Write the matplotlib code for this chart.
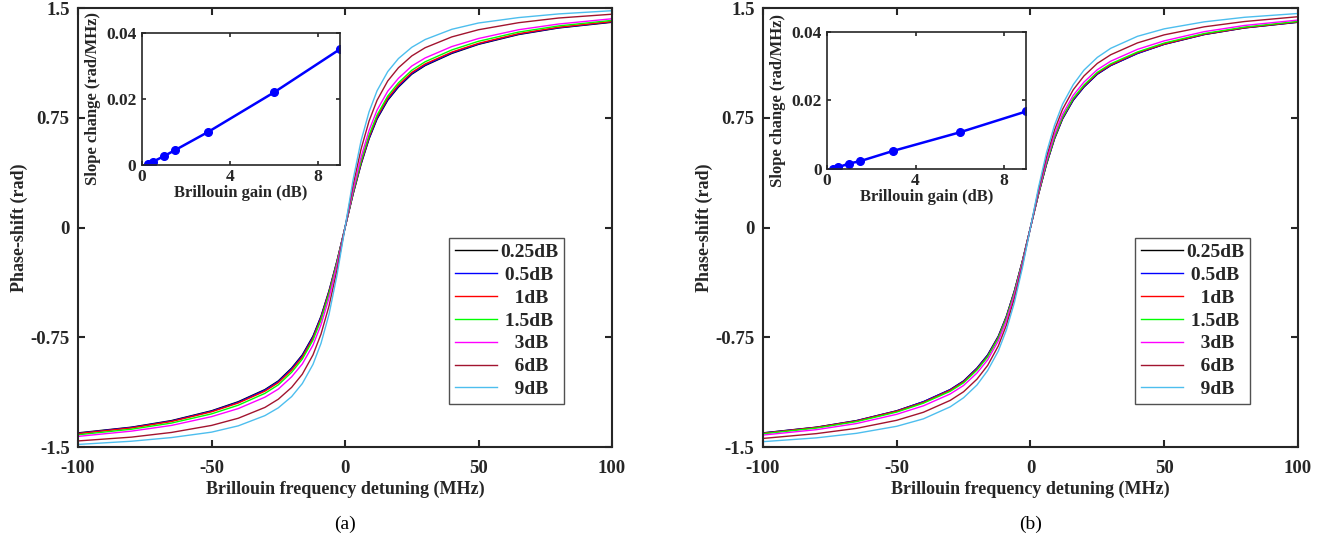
import numpy as np
import matplotlib
matplotlib.use("Agg")
import matplotlib.pyplot as plt

plt.rcParams['font.family'] = ['Liberation Serif', 'DejaVu Serif']
plt.rcParams['axes.unicode_minus'] = False

# detuning (MHz) where the curves were read
detuning = [-100, -80, -65, -50, -40, -30, -25, -20, -16, -12, -9, -6, -3, 0,
            3, 6, 9, 12, 16, 20, 25, 30, 40, 50, 65, 80, 100]

labels = ['0.25dB', '0.5dB', '1dB', '1.5dB', '3dB', '6dB', '9dB']
colors = ['#000000', '#0000FF', '#FF0000', '#00FF00', '#FF00FF', '#A2142F', '#4DBEEE']

# panel (a) phase shift (rad)
a_025 = [-1.403, -1.364, -1.319, -1.252, -1.190, -1.107, -1.048, -0.960, -0.870, -0.742, -0.606, -0.432, -0.227, 0,
         0.227, 0.432, 0.606, 0.742, 0.870, 0.960, 1.048, 1.107, 1.190, 1.252, 1.319, 1.364, 1.403]
a_05 = [-1.406, -1.366, -1.322, -1.255, -1.194, -1.111, -1.053, -0.965, -0.876, -0.747, -0.611, -0.437, -0.229, 0,
        0.229, 0.437, 0.611, 0.747, 0.876, 0.965, 1.053, 1.111, 1.194, 1.255, 1.322, 1.366, 1.406]
a_1 = [-1.408, -1.369, -1.325, -1.259, -1.199, -1.118, -1.060, -0.974, -0.885, -0.757, -0.620, -0.444, -0.234, 0,
       0.234, 0.444, 0.620, 0.757, 0.885, 0.974, 1.060, 1.118, 1.199, 1.259, 1.325, 1.369, 1.408]
a_15 = [-1.416, -1.378, -1.336, -1.273, -1.214, -1.133, -1.075, -0.989, -0.899, -0.769, -0.632, -0.454, -0.239, 0,
        0.239, 0.454, 0.632, 0.769, 0.899, 0.989, 1.075, 1.133, 1.214, 1.273, 1.336, 1.378, 1.416]
a_3 = [-1.427, -1.391, -1.352, -1.292, -1.237, -1.159, -1.104, -1.020, -0.932, -0.803, -0.664, -0.481, -0.255, 0,
       0.255, 0.481, 0.664, 0.803, 0.932, 1.020, 1.104, 1.159, 1.237, 1.292, 1.352, 1.391, 1.427]
a_6 = [-1.458, -1.432, -1.400, -1.352, -1.303, -1.229, -1.173, -1.092, -1.002, -0.870, -0.728, -0.536, -0.289, 0,
       0.289, 0.536, 0.728, 0.870, 1.002, 1.092, 1.173, 1.229, 1.303, 1.352, 1.400, 1.432, 1.458]
a_9 = [-1.482, -1.460, -1.435, -1.398, -1.355, -1.285, -1.232, -1.155, -1.066, -0.935, -0.791, -0.593, -0.325, 0,
       0.325, 0.593, 0.791, 0.935, 1.066, 1.155, 1.232, 1.285, 1.355, 1.398, 1.435, 1.460, 1.482]

# panel (b) phase shift (rad)
b_025 = [-1.403, -1.364, -1.319, -1.252, -1.190, -1.107, -1.048, -0.960, -0.870, -0.742, -0.606, -0.432, -0.227, 0,
         0.227, 0.432, 0.606, 0.742, 0.870, 0.960, 1.048, 1.107, 1.190, 1.252, 1.319, 1.364, 1.403]
b_05 = [-1.404, -1.365, -1.320, -1.253, -1.190, -1.108, -1.050, -0.962, -0.873, -0.745, -0.609, -0.434, -0.228, 0,
        0.228, 0.434, 0.609, 0.745, 0.873, 0.962, 1.050, 1.108, 1.190, 1.253, 1.320, 1.365, 1.404]
b_1 = [-1.406, -1.366, -1.322, -1.255, -1.195, -1.112, -1.055, -0.968, -0.880, -0.751, -0.615, -0.440, -0.231, 0,
       0.231, 0.440, 0.615, 0.751, 0.880, 0.968, 1.055, 1.112, 1.195, 1.255, 1.322, 1.366, 1.406]
b_15 = [-1.409, -1.370, -1.326, -1.261, -1.200, -1.119, -1.061, -0.974, -0.884, -0.756, -0.619, -0.443, -0.233, 0,
        0.233, 0.443, 0.619, 0.756, 0.884, 0.974, 1.061, 1.119, 1.200, 1.261, 1.326, 1.370, 1.409]
b_3 = [-1.418, -1.381, -1.339, -1.276, -1.218, -1.137, -1.079, -0.994, -0.904, -0.774, -0.637, -0.458, -0.242, 0,
       0.242, 0.458, 0.637, 0.774, 0.904, 0.994, 1.079, 1.137, 1.218, 1.276, 1.339, 1.381, 1.418]
b_6 = [-1.441, -1.408, -1.372, -1.317, -1.262, -1.181, -1.122, -1.036, -0.942, -0.808, -0.667, -0.484, -0.257, 0,
       0.257, 0.484, 0.667, 0.808, 0.942, 1.036, 1.122, 1.181, 1.262, 1.317, 1.372, 1.408, 1.441]
b_9 = [-1.463, -1.437, -1.406, -1.358, -1.307, -1.225, -1.163, -1.076, -0.977, -0.843, -0.700, -0.512, -0.274, 0,
       0.274, 0.512, 0.700, 0.843, 0.977, 1.076, 1.163, 1.225, 1.307, 1.358, 1.406, 1.437, 1.463]

# insets: slope change vs Brillouin gain
gain = [0.25, 0.5, 1, 1.5, 3, 6, 9]
slope_a = [0.0002, 0.001, 0.0027, 0.0045, 0.010, 0.022, 0.0351]
slope_b = [0.0001, 0.0005, 0.0016, 0.0023, 0.0053, 0.0107, 0.0168]

AXC = '#262626'


def style_axes(ax, lw=1.5):
    for s in ax.spines.values():
        s.set_linewidth(lw)
        s.set_color(AXC)
    ax.tick_params(direction='in', top=True, right=True, width=lw, colors=AXC,
                   labelcolor=AXC)
    for t in ax.get_xticklabels() + ax.get_yticklabels():
        t.set_fontweight('bold')


def draw_panel(ax_rect, in_rect, curves, slope, tag, fig):
    ax = fig.add_axes(ax_rect)
    for y, c, lab in zip(curves, colors, labels):
        ax.plot(detuning, y, color=c, lw=1.0, label=lab)
    ax.set_xlim(-100, 100)
    ax.set_ylim(-1.5, 1.5)
    ax.set_xticks([-100, -50, 0, 50, 100])
    ax.set_yticks([-1.5, -0.75, 0, 0.75, 1.5])
    ax.set_yticklabels(['-1.5', '-0.75', '0', '0.75', '1.5'])
    ax.tick_params(labelsize=13.5, length=5)
    ax.tick_params(axis='x', pad=9)
    ax.tick_params(axis='y', pad=6)
    style_axes(ax)
    ax.set_xlabel('Brillouin frequency detuning (MHz)', fontsize=13,
                  fontweight='bold', color=AXC, labelpad=3)
    ax.set_ylabel('Phase-shift (rad)', fontsize=13, fontweight='bold',
                  color=AXC, labelpad=2)
    pad = ['0.25dB', ' 0.5dB', '   1dB', ' 1.5dB', '   3dB', '   6dB', '   9dB']
    leg = ax.legend(ax.get_lines(), pad, loc='lower right',
                    bbox_to_anchor=(0.91, 0.098),
                    prop={'weight': 'bold', 'size': 14}, frameon=True,
                    fancybox=False, edgecolor=AXC, handlelength=2.15,
                    handletextpad=0.15, labelspacing=0.27, borderpad=0.3,
                    borderaxespad=0.0)
    leg.get_frame().set_linewidth(1.0)
    for t in leg.get_texts():
        t.set_color(AXC)

    ins = fig.add_axes(in_rect)
    ins.plot(gain, slope, '-o', color='#0000FF', lw=1.8, ms=5.5)
    ins.set_xlim(0, 9)
    ins.set_ylim(0, 0.04)
    ins.set_xticks([0, 4, 8])
    ins.set_yticks([0, 0.02, 0.04])
    ins.set_yticklabels(['0', '0.02', '0.04'])
    ins.tick_params(labelsize=12.5, length=3)
    ins.tick_params(axis='x', pad=3)
    ins.tick_params(axis='y', pad=4)
    style_axes(ins, lw=1.2)
    ins.set_xlabel('Brillouin gain (dB)', fontsize=12, fontweight='bold',
                   color=AXC, labelpad=0)
    ins.set_ylabel('Slope change (rad/MHz)', fontsize=12, fontweight='bold',
                   color=AXC, labelpad=4)

    fig.text(ax_rect[0] + ax_rect[2] / 2, 0.026, tag, ha='center', va='center',
             fontsize=14, color='#000000')


fig = plt.figure(figsize=(13.25, 5.38), dpi=100)
draw_panel([0.0589, 0.169, 0.403, 0.816], [0.1072, 0.6933, 0.1494, 0.2454],
           [a_025, a_05, a_1, a_15, a_3, a_6, a_9], slope_a, '(a)', fig)
draw_panel([0.5758, 0.169, 0.4038, 0.816], [0.6242, 0.6859, 0.1502, 0.2546],
           [b_025, b_05, b_1, b_15, b_3, b_6, b_9], slope_b, '(b)', fig)

fig.savefig('out.png', dpi=100)
